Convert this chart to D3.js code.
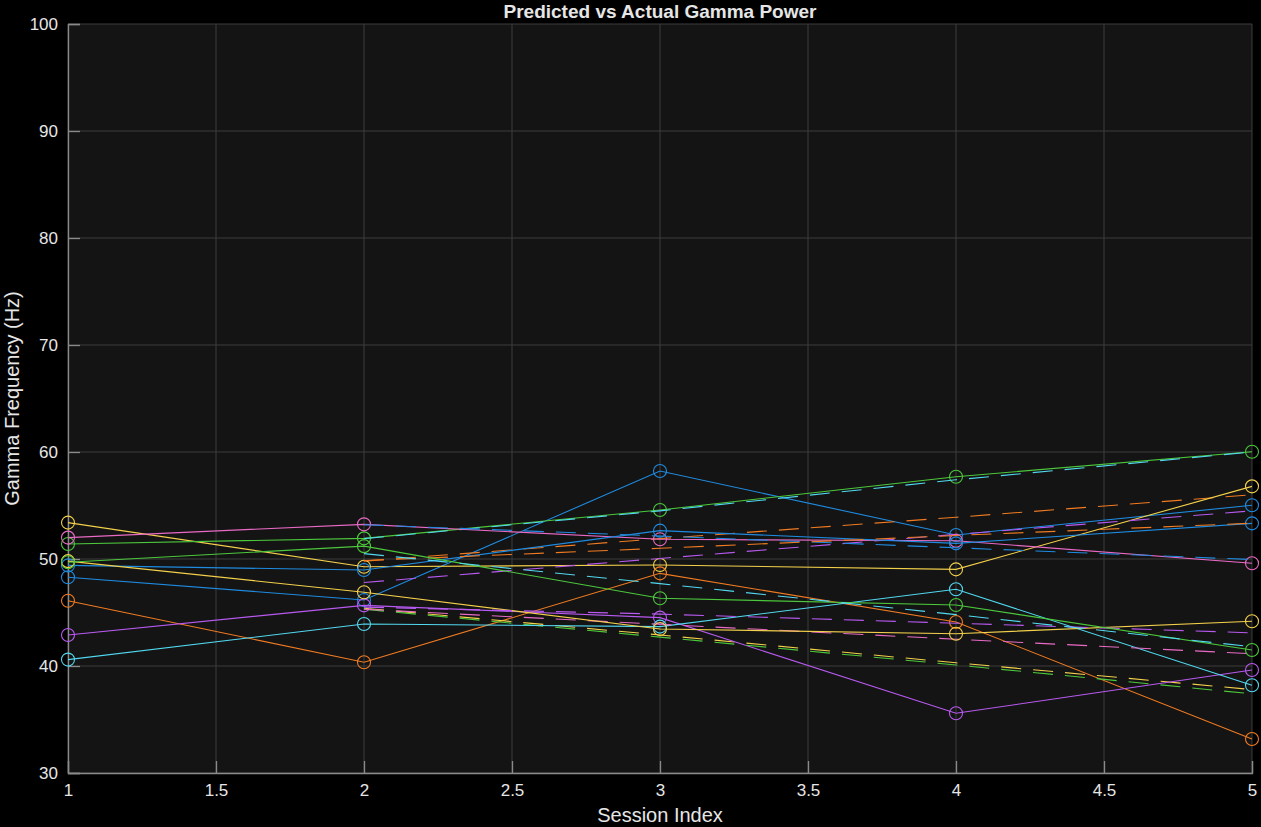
<!DOCTYPE html>
<html>
<head>
<meta charset="utf-8">
<script src="https://cdn.jsdelivr.net/npm/d3@7"></script>
<style>
  html, body { margin: 0; padding: 0; background: #000; }
  svg { display: block; }
</style>
</head>
<body>
<svg id="chart" width="1261" height="827"></svg>
<script>
  // Sessions and tick labels
  const sessions = [1, 2, 3, 4, 5];
  const predSessions = [2, 3, 4, 5];
  const xTicks = [1, 1.5, 2, 2.5, 3, 3.5, 4, 4.5, 5];
  const yTicks = [30, 40, 50, 60, 70, 80, 90, 100];

  // MATLAB-style colour order (dark theme)
  const palette = {
    blue: "#1f8be0",
    orange: "#f07b22",
    yellow: "#f3d04b",
    purple: "#b85af0",
    green: "#4cc83c",
    cyan: "#52d8f0",
    pink: "#e96ac6"
  };

  // Actual (solid + circles)
  const actualColors = ["blue", "yellow", "green", "pink", "orange", "purple", "cyan", "blue", "yellow", "green"];
  const actual1 = [48.3, 46.17, 58.22, 52.24, 55.02];
  const actual2 = [53.4, 49.28, 49.44, 49.03, 56.79];
  const actual3 = [51.4, 51.93, 54.58, 57.69, 60.03];
  const actual4 = [52.0, 53.24, 51.84, 51.7, 49.6];
  const actual5 = [46.1, 40.35, 48.66, 44.11, 33.18];
  const actual6 = [42.9, 45.67, 44.52, 35.58, 39.63];
  const actual7 = [40.6, 43.93, 43.68, 47.17, 38.2];
  const actual8 = [49.4, 48.97, 52.65, 51.46, 53.33];
  const actual9 = [49.8, 46.89, 43.46, 43.02, 44.18];
  const actual10 = [49.7, 51.2, 46.33, 45.7, 41.5];

  // Predicted (dashed)
  const predColors = ["orange", "purple", "cyan", "blue", "yellow", "green", "pink", "orange", "purple", "cyan"];
  const pred1 = [49.8, 51.9, 53.9, 56.0];
  const pred2 = [47.8, 50.05, 52.3, 54.5];
  const pred3 = [51.9, 54.5, 57.4, 60.0];
  const pred4 = [53.2, 52.15, 51.05, 49.95];
  const pred5 = [45.4, 42.9, 40.3, 37.8];
  const pred6 = [45.3, 42.7, 40.1, 37.4];
  const pred7 = [45.3, 43.9, 42.5, 41.15];
  const pred8 = [49.85, 51.0, 52.2, 53.35];
  const pred9 = [45.5, 44.85, 44.0, 43.1];
  const pred10 = [50.5, 47.7, 44.8, 41.8];

  const actuals = [actual1, actual2, actual3, actual4, actual5, actual6, actual7, actual8, actual9, actual10];
  const preds = [pred1, pred2, pred3, pred4, pred5, pred6, pred7, pred8, pred9, pred10];

  const FONT = "'Liberation Sans', Arial, Helvetica, sans-serif";
  const TEXT = "#e6e6e6";

  const svg = d3.select("#chart");
  const margin = { top: 24, right: 9, bottom: 54, left: 68 };
  const width = 1261, height = 827;
  const innerWidth = width - margin.left - margin.right;
  const innerHeight = height - margin.top - margin.bottom;

  svg.append("rect").attr("width", width).attr("height", height).attr("fill", "#000");

  const g = svg.append("g").attr("transform", `translate(${margin.left},${margin.top})`);

  const x = d3.scaleLinear().domain([1, 5]).range([0, innerWidth]);
  const y = d3.scaleLinear().domain([30, 100]).range([innerHeight, 0]);

  g.append("rect")
    .attr("width", innerWidth)
    .attr("height", innerHeight)
    .attr("fill", "#141414");

  // Grid
  g.append("g")
    .selectAll("line")
    .data(xTicks)
    .join("line")
    .attr("x1", d => x(d)).attr("x2", d => x(d))
    .attr("y1", 0).attr("y2", innerHeight)
    .attr("stroke", "#3c3c3c")
    .attr("stroke-width", 1);

  g.append("g")
    .selectAll("line")
    .data(yTicks)
    .join("line")
    .attr("x1", 0).attr("x2", innerWidth)
    .attr("y1", d => y(d)).attr("y2", d => y(d))
    .attr("stroke", "#3c3c3c")
    .attr("stroke-width", 1);

  // Axes (ticks point inward)
  const xAxis = g.append("g")
    .attr("transform", `translate(0,${innerHeight})`)
    .call(d3.axisBottom(x).tickValues(xTicks).tickSize(-12).tickPadding(20).tickFormat(d3.format("")));

  const yAxis = g.append("g")
    .call(d3.axisLeft(y).tickValues(yTicks).tickSize(-12).tickPadding(22));

  [xAxis, yAxis].forEach(ax => {
    ax.select(".domain").attr("stroke", "#8a8a8a").attr("stroke-width", 1.3);
    ax.selectAll(".tick line").attr("stroke", "#8a8a8a").attr("stroke-width", 1.3);
    ax.selectAll(".tick text")
      .attr("fill", TEXT)
      .attr("font-family", FONT)
      .attr("font-size", 17);
  });
  xAxis.selectAll(".tick text").attr("dy", "0.2em");
  yAxis.selectAll(".tick text").attr("dx", "12");

  const line = d3.line()
    .x(d => x(d.s))
    .y(d => y(d.v));

  // Series: actual then predicted, in plot order
  actuals.forEach((vals, i) => {
    const col = palette[actualColors[i]];
    const pts = sessions.map((s, k) => ({ s, v: vals[k] }));
    g.append("path")
      .datum(pts)
      .attr("fill", "none")
      .attr("stroke", col)
      .attr("stroke-width", 1.1)
      .attr("d", line);
    g.append("g")
      .selectAll("circle")
      .data(pts)
      .join("circle")
      .attr("cx", d => x(d.s))
      .attr("cy", d => y(d.v))
      .attr("r", 6.5)
      .attr("fill", "none")
      .attr("stroke", col)
      .attr("stroke-width", 1.1);

    const pv = preds[i];
    const ppts = predSessions.map((s, k) => ({ s, v: pv[k] }));
    g.append("path")
      .datum(ppts)
      .attr("fill", "none")
      .attr("stroke", palette[predColors[i]])
      .attr("stroke-width", 1.1)
      .attr("stroke-dasharray", "20,12")
      .attr("d", line);
  });

  // Title and labels
  svg.append("text")
    .attr("x", margin.left + innerWidth / 2)
    .attr("y", 18)
    .attr("text-anchor", "middle")
    .attr("font-family", FONT)
    .attr("font-size", 19)
    .attr("font-weight", "bold")
    .attr("fill", TEXT)
    .text("Predicted vs Actual Gamma Power");

  svg.append("text")
    .attr("x", margin.left + innerWidth / 2)
    .attr("y", 822)
    .attr("text-anchor", "middle")
    .attr("font-family", FONT)
    .attr("font-size", 20)
    .attr("fill", TEXT)
    .text("Session Index");

  svg.append("text")
    .attr("transform", `translate(19,${margin.top + innerHeight / 2}) rotate(-90)`)
    .attr("text-anchor", "middle")
    .attr("font-family", FONT)
    .attr("font-size", 20)
    .attr("fill", TEXT)
    .text("Gamma Frequency (Hz)");
</script>
</body>
</html>
